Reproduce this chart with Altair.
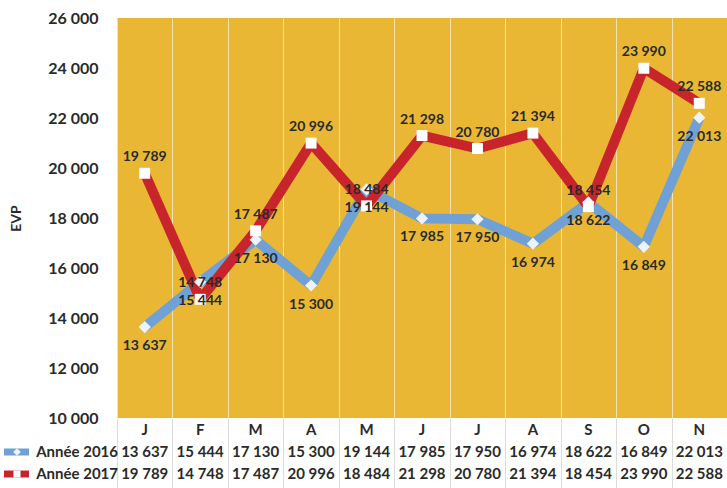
import altair as alt
import pandas as pd

months = ["J", "F", "M", "A", "M", "J", "J", "A", "S", "O", "N"]
keys = ["janv", "févr", "mars", "avr", "mai", "juin", "juil", "août", "sept", "oct", "nov"]
series_names = ["Année 2016", "Année 2017"]
v2016 = [13637, 15444, 17130, 15300, 19144, 17985, 17950, 16974, 18622, 16849, 22013]
v2017 = [19789, 14748, 17487, 20996, 18484, 21298, 20780, 21394, 18454, 23990, 22588]
y_ticks = [10000, 12000, 14000, 16000, 18000, 20000, 22000, 24000, 26000]

GOLD = "#E9B734"
RED = "#C8242C"
BLUE = "#6FA0D6"
TXT = "#2a2a2a"
FONT = "Lato"

rows = []
for i, (k, m, a, b) in enumerate(zip(keys, months, v2016, v2017)):
    rows.append({"i": i, "key": k, "month": m, "serie": series_names[0], "v": a})
    rows.append({"i": i, "key": k, "month": m, "serie": series_names[1], "v": b})
df = pd.DataFrame(rows)
df["lab"] = df["v"].map(lambda x: f"{x:,}".replace(",", " "))

W, H = 610, 400

xenc = alt.X("key:N", sort=keys,
             scale=alt.Scale(paddingInner=0, paddingOuter=0),
             axis=alt.Axis(title=None, labels=False, domain=False, tickBand="extent",
                           ticks=True, tickSize=70, tickColor="#dcdcdc", tickWidth=1,
                           grid=True, gridColor="#ffffff", gridOpacity=0.6, gridWidth=1))
yscale = alt.Scale(domain=[10000, 26000], nice=False)
yenc = alt.Y("v:Q", scale=yscale,
             axis=alt.Axis(title="EVP", values=y_ticks, grid=False, ticks=False, domain=False,
                           labelExpr="replace(format(datum.value, ','), ',', ' ')",
                           labelFontSize=16, labelFont=FONT, labelFontWeight="bold",
                           labelColor=TXT, labelPadding=19,
                           titleFont=FONT, titleFontSize=14, titleFontWeight="bold",
                           titleColor=TXT, titlePadding=24))

color = alt.Color("serie:N", scale=alt.Scale(domain=series_names, range=[BLUE, RED]), legend=None)

base = alt.Chart(df)

lines = base.mark_line(strokeWidth=10, strokeJoin="bevel").encode(
    x=xenc, y=yenc, color=color, order=alt.Order("i:Q"))

d16 = df[df["serie"] == series_names[0]]
d17 = df[df["serie"] == series_names[1]]

pts16 = alt.Chart(d16).mark_point(shape="diamond", filled=True, size=150, color="#EEF3FA",
                                  opacity=1).encode(x=alt.X("key:N", sort=keys), y=alt.Y("v:Q", scale=yscale))
pts17 = alt.Chart(d17).mark_point(shape="square", filled=True, size=120, color="#FFFFFF",
                                  opacity=1).encode(x=alt.X("key:N", sort=keys), y=alt.Y("v:Q", scale=yscale))

lab16 = alt.Chart(d16).mark_text(dy=19, font=FONT, fontSize=14, fontWeight="bold", color=TXT,
                                 baseline="middle").encode(
    x=alt.X("key:N", sort=keys), y=alt.Y("v:Q", scale=yscale), text="lab:N")
lab17 = alt.Chart(d17).mark_text(dy=-16, font=FONT, fontSize=14, fontWeight="bold", color=TXT,
                                 baseline="middle").encode(
    x=alt.X("key:N", sort=keys), y=alt.Y("v:Q", scale=yscale), text="lab:N")

# data table under the plot
mdf = pd.DataFrame({"key": keys, "month": months})
mlab = alt.Chart(mdf).mark_text(font=FONT, fontSize=15, fontWeight="bold", color=TXT,
                                baseline="middle").encode(
    x=alt.X("key:N", sort=keys), y=alt.value(H + 12), text="month:N")
row16 = alt.Chart(d16).mark_text(font=FONT, fontSize=15, fontWeight="bold", color=TXT,
                                 baseline="middle").encode(
    x=alt.X("key:N", sort=keys), y=alt.value(H + 34), text="lab:N")
row17 = alt.Chart(d17).mark_text(font=FONT, fontSize=15, fontWeight="bold", color=TXT,
                                 baseline="middle").encode(
    x=alt.X("key:N", sort=keys), y=alt.value(H + 56), text="lab:N")

ldf = pd.DataFrame({"serie": series_names})
leg16 = alt.Chart(ldf[ldf.serie == series_names[0]]).mark_text(
    font=FONT, fontSize=15, fontWeight="bold", color=TXT, align="right", baseline="middle").encode(
    x=alt.value(1), y=alt.value(H + 34), text="serie:N")
leg17 = alt.Chart(ldf[ldf.serie == series_names[1]]).mark_text(
    font=FONT, fontSize=15, fontWeight="bold", color=TXT, align="right", baseline="middle").encode(
    x=alt.value(1), y=alt.value(H + 56), text="serie:N")
sym16 = alt.Chart(ldf[ldf.serie == series_names[0]]).mark_rule(strokeWidth=7, color=BLUE).encode(
    x=alt.value(-113), x2=alt.value(-88), y=alt.value(H + 34))
sym17 = alt.Chart(ldf[ldf.serie == series_names[1]]).mark_rule(strokeWidth=7, color=RED).encode(
    x=alt.value(-113), x2=alt.value(-88), y=alt.value(H + 56))
mk16 = alt.Chart(ldf[ldf.serie == series_names[0]]).mark_point(
    shape="diamond", filled=True, size=60, color="#EEF3FA", opacity=1).encode(
    x=alt.value(-100), y=alt.value(H + 34))
mk17 = alt.Chart(ldf[ldf.serie == series_names[1]]).mark_point(
    shape="square", filled=True, size=50, color="#FFFFFF", opacity=1).encode(
    x=alt.value(-100), y=alt.value(H + 56))

chart = alt.layer(lines, pts16, pts17, lab16, lab17, mlab, row16, row17,
                  sym16, sym17, mk16, mk17, leg16, leg17).properties(
    width=W, height=H,
    autosize=alt.AutoSizeParams(type="none"),
    padding={"left": 117, "top": 18, "right": 0, "bottom": 70},
    background="#ffffff",
).configure_view(fill=GOLD, stroke=None)

chart.save("out.html", embed_options={"renderer": "svg", "actions": False})
